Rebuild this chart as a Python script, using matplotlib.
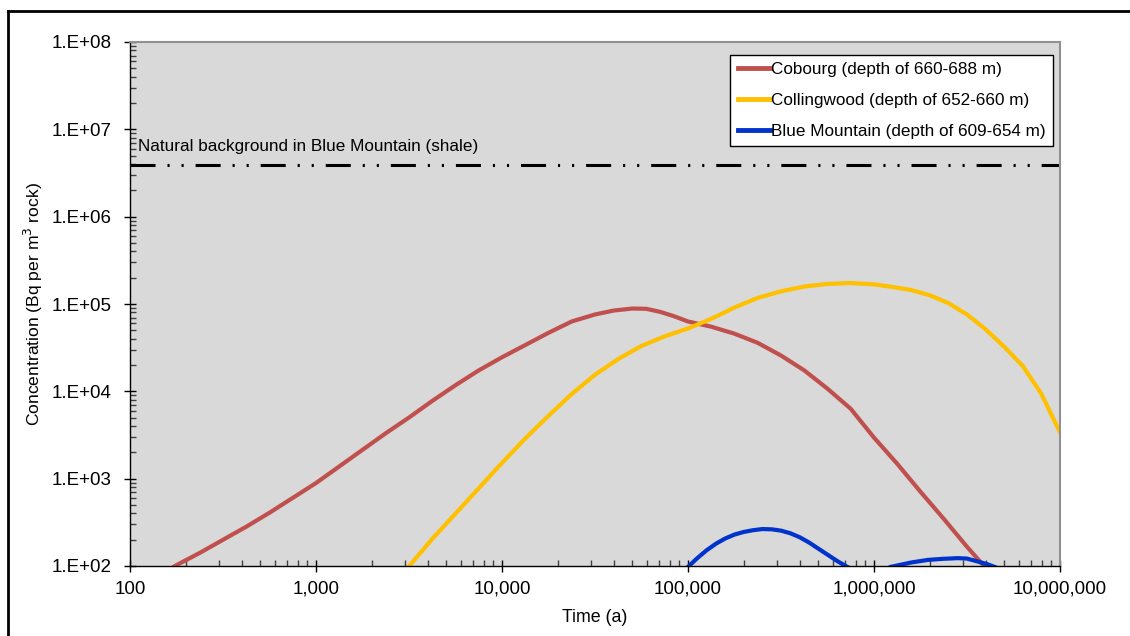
import math
import numpy as np
import matplotlib.pyplot as plt
from matplotlib.lines import Line2D
from matplotlib.ticker import FuncFormatter, LogLocator, NullFormatter

plt.rcParams['font.family'] = ['Liberation Sans', 'DejaVu Sans']

# values, as log10(time) and log10(concentration)
# Cobourg (depth of 660-688 m)
cob_logt = [2.15, 2.25, 2.375, 2.5, 2.625, 2.75, 2.875, 3.0, 3.125, 3.25,
            3.375, 3.5, 3.625, 3.75, 3.875, 4.0, 4.125, 4.25, 4.375, 4.5,
            4.6, 4.7, 4.775, 4.85, 4.925, 5.0, 5.125, 5.25, 5.375, 5.5,
            5.625, 5.75, 5.875, 6.0, 6.125, 6.25, 6.375, 6.5, 6.6, 6.7]
cob_logc = [1.88, 2.01, 2.15, 2.30, 2.45, 2.61, 2.78, 2.95, 3.14, 3.33,
            3.52, 3.70, 3.89, 4.07, 4.24, 4.39, 4.53, 4.67, 4.80, 4.88,
            4.925, 4.948, 4.945, 4.91, 4.86, 4.80, 4.74, 4.66, 4.555, 4.41,
            4.24, 4.03, 3.80, 3.47, 3.17, 2.85, 2.54, 2.22, 1.98, 1.75]

# Collingwood (depth of 652-660 m)
col_logt = [3.45, 3.505, 3.625, 3.75, 3.875, 4.0, 4.125, 4.25, 4.375, 4.5,
            4.625, 4.75, 4.875, 5.0, 5.125, 5.25, 5.375, 5.5, 5.625, 5.75,
            5.875, 6.0, 6.1, 6.2, 6.3, 6.4, 6.5, 6.6, 6.7, 6.8, 6.9, 7.0]
col_logc = [1.88, 2.01, 2.31, 2.60, 2.89, 3.18, 3.46, 3.72, 3.97, 4.19,
            4.37, 4.52, 4.63, 4.72, 4.83, 4.96, 5.07, 5.145, 5.20, 5.23,
            5.24, 5.225, 5.195, 5.16, 5.10, 5.01, 4.88, 4.71, 4.51, 4.29,
            3.97, 3.53]

# Blue Mountain (depth of 609-654 m)
blu_logt = [4.95, 5.0, 5.05, 5.1, 5.15, 5.2, 5.25, 5.3, 5.35, 5.4, 5.45,
            5.5, 5.55, 5.6, 5.65, 5.7, 5.75, 5.8, 5.86, 5.97, 6.09, 6.2,
            6.29, 6.37, 6.45, 6.5, 6.56, 6.61, 6.66, 6.72]
blu_logc = [1.88, 1.99, 2.09, 2.18, 2.255, 2.315, 2.36, 2.39, 2.41, 2.423,
            2.42, 2.405, 2.375, 2.33, 2.27, 2.20, 2.13, 2.06, 1.985, 1.88,
            1.99, 2.04, 2.07, 2.082, 2.09, 2.085, 2.05, 2.02, 1.98, 1.92]

background = 3.9e6
labels = ['Cobourg (depth of 660-688 m)',
          'Collingwood (depth of 652-660 m)',
          'Blue Mountain (depth of 609-654 m)']

fig = plt.figure(figsize=(11.3, 6.36), dpi=100)
ax = fig.add_axes([130 / 1130, 1 - 566 / 636, 930 / 1130, 524 / 636])
ax.set_facecolor('#D9D9D9')

ax.plot(10 ** np.array(cob_logt), 10 ** np.array(cob_logc),
        color='#C0504D', lw=3, label=labels[0])
ax.plot(10 ** np.array(col_logt), 10 ** np.array(col_logc),
        color='#FFC000', lw=3, label=labels[1])
ax.plot(10 ** np.array(blu_logt), 10 ** np.array(blu_logc),
        color='#0033CC', lw=3, label=labels[2])
ax.axhline(background, color='black', lw=2.2,
           dashes=(8.2, 3.9, 0.7, 3.9, 0.7, 3.9))
ax.text(8 / 930, (566 - 147) / 524, 'Natural background in Blue Mountain (shale)',
        fontsize=12.3, va='center', ha='left', transform=ax.transAxes)

ax.set_xscale('log')
ax.set_yscale('log')
ax.set_xlim(100, 1e7)
ax.set_ylim(1e2, 1e8)

ax.xaxis.set_major_formatter(FuncFormatter(lambda v, p: f'{v:,.0f}'))
ax.yaxis.set_major_formatter(
    FuncFormatter(lambda v, p: '1.E+%02d' % round(math.log10(v))))
for a in (ax.xaxis, ax.yaxis):
    a.set_minor_locator(LogLocator(base=10, subs=range(2, 10), numticks=20))
    a.set_minor_formatter(NullFormatter())
ax.tick_params(which='major', direction='inout', length=9, width=1,
               labelsize=13.5, colors='black')
ax.tick_params(axis='x', which='major', pad=6)
ax.tick_params(axis='y', which='major', pad=8.5)
ax.tick_params(which='minor', direction='in', length=4.5, width=1,
               color='#404040')

for s in ('top', 'right'):
    ax.spines[s].set_color('#909090')
    ax.spines[s].set_linewidth(1.5)
for s in ('left', 'bottom'):
    ax.spines[s].set_color('black')
    ax.spines[s].set_linewidth(1)

ax.set_xlabel('Time (a)', fontsize=12.8, labelpad=8)
ax.set_ylabel('Concentration (Bq per m$^3$ rock)', fontsize=12.6, labelpad=5)

leg = ax.legend(loc='upper right', bbox_to_anchor=(0.9925, 0.976),
                borderaxespad=0, fontsize=12.3, handlelength=1.87,
                handletextpad=0.06, labelspacing=0.92, borderpad=0.45,
                fancybox=False, framealpha=1, edgecolor='black')
leg.get_frame().set_linewidth(1)
for h in leg.get_lines():
    h.set_linewidth(3.5)

# outer frame: top and left edges
fig.add_artist(Line2D([8 / 1130, 1], [1 - 11 / 636, 1 - 11 / 636],
                      color='black', lw=2, transform=fig.transFigure))
fig.add_artist(Line2D([8 / 1130, 8 / 1130], [0, 1 - 11 / 636],
                      color='black', lw=2, transform=fig.transFigure))

plt.savefig('out.png', dpi=100)
